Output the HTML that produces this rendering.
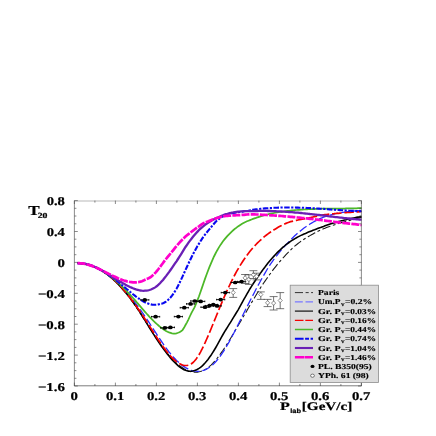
<!DOCTYPE html>
<html><head><meta charset="utf-8"><style>html,body{margin:0;padding:0;background:#fff}svg{display:block;filter:blur(0.35px)}</style></head><body>
<svg width="436" height="436" viewBox="0 0 436 436">
<rect x="0" y="0" width="436" height="436" fill="#fff"/>
<clipPath id="c"><rect x="74.4" y="200.6" width="288.2" height="185.4"/></clipPath>
<g clip-path="url(#c)"><g fill="none" transform="scale(1.0,1)">
<path d="M77.50,263.2 L79.00,263.2 L80.50,263.3 L82.00,263.5 L83.50,263.7 L85.00,263.9 L86.50,264.3 L88.00,264.6 L89.50,265.1 L91.00,265.6 L92.50,266.1 L94.00,266.7 L95.50,267.4 L97.00,268.1 L98.50,268.9 L100.00,269.7 L101.50,270.6 L103.00,271.5 L104.50,272.5 L106.00,273.6 L107.50,274.7 L109.00,275.9 L110.50,277.1 L112.00,278.4 L113.50,279.8 L115.00,281.2 L116.50,282.6 L118.00,284.2 L119.50,285.7 L121.00,287.4 L122.50,289.1 L124.00,290.8 L125.50,292.6 L127.00,294.5 L128.50,296.4 L130.00,298.4 L131.50,300.4 L133.00,302.5 L134.50,304.7 L136.00,306.9 L137.50,309.1 L139.00,311.3 L140.50,313.6 L142.00,315.9 L143.50,318.2 L145.00,320.6 L146.50,322.9 L148.00,325.2 L149.50,327.6 L151.00,329.9 L152.50,332.2 L154.00,334.5 L155.50,336.8 L157.00,339.0 L158.50,341.2 L160.00,343.4 L161.50,345.5 L163.00,347.6 L164.50,349.6 L166.00,351.5 L167.50,353.4 L169.00,355.3 L170.50,357.0 L172.00,358.7 L173.50,360.3 L175.00,361.8 L176.50,363.2 L178.00,364.5 L179.50,365.7 L181.00,366.8 L182.50,367.8 L184.00,368.8 L185.50,369.6 L187.00,370.3 L188.50,370.9 L190.00,371.4 L191.50,371.8 L193.00,372.0 L194.50,372.2 L196.00,372.2 L197.50,372.1 L199.00,371.8 L200.50,371.5 L202.00,371.0 L203.50,370.3 L205.00,369.6 L206.50,368.7 L208.00,367.6 L209.50,366.4 L211.00,365.1 L212.50,363.6 L214.00,362.0 L215.50,360.3 L217.00,358.5 L218.50,356.6 L220.00,354.5 L221.50,352.4 L223.00,350.3 L224.50,348.0 L226.00,345.7 L227.50,343.3 L229.00,340.9 L230.50,338.5 L232.00,336.0 L233.50,333.4 L235.00,330.9 L236.50,328.3 L238.00,325.8 L239.50,323.2 L241.00,320.7 L242.50,318.1 L244.00,315.5 L245.50,313.0 L247.00,310.4 L248.50,307.8 L250.00,305.3 L251.50,302.8 L253.00,300.2 L254.50,297.7 L256.00,295.2 L257.50,292.8 L259.00,290.3 L260.50,287.8 L262.00,285.4 L263.50,283.2 L265.00,281.1 L266.50,279.0 L268.00,276.9 L269.50,274.8 L271.00,272.7 L272.50,270.7 L274.00,268.7 L275.50,266.8 L277.00,264.9 L278.50,263.1 L280.00,261.3 L281.50,259.6 L283.00,258.0 L284.50,256.3 L286.00,254.7 L287.50,253.2 L289.00,251.6 L290.50,250.1 L292.00,248.6 L293.50,247.2 L295.00,245.9 L296.50,244.7 L298.00,243.5 L299.50,242.4 L301.00,241.3 L302.50,240.3 L304.00,239.3 L305.50,238.3 L307.00,237.4 L308.50,236.5 L310.00,235.6 L311.50,234.7 L313.00,233.9 L314.50,233.1 L316.00,232.3 L317.50,231.5 L319.00,230.8 L320.50,230.1 L322.00,229.5 L323.50,228.8 L325.00,228.2 L326.50,227.6 L328.00,227.0 L329.50,226.5 L331.00,225.9 L332.50,225.4 L334.00,224.9 L335.50,224.4 L337.00,223.9 L338.50,223.5 L340.00,223.0 L341.50,222.6 L343.00,222.2 L344.50,221.8 L346.00,221.4 L347.50,221.0 L349.00,220.6 L350.50,220.2 L352.00,219.8 L353.50,219.4 L355.00,219.0 L356.50,218.6 L358.00,218.3 L359.50,217.9 L361.00,217.5 L361.60,217.4" stroke="#1a1a1a" stroke-width="1.1" stroke-dasharray="8.5 2.6 2.8 2.6"/>
<path d="M77.50,263.2 L79.00,263.2 L80.50,263.3 L82.00,263.5 L83.50,263.7 L85.00,264.0 L86.50,264.3 L88.00,264.7 L89.50,265.1 L91.00,265.6 L92.50,266.1 L94.00,266.7 L95.50,267.4 L97.00,268.1 L98.50,268.8 L100.00,269.6 L101.50,270.5 L103.00,271.4 L104.50,272.4 L106.00,273.4 L107.50,274.4 L109.00,275.5 L110.50,276.7 L112.00,277.9 L113.50,279.2 L115.00,280.5 L116.50,281.9 L118.00,283.3 L119.50,284.7 L121.00,286.2 L122.50,287.8 L124.00,289.4 L125.50,291.0 L127.00,292.7 L128.50,294.5 L130.00,296.2 L131.50,298.1 L133.00,299.9 L134.50,301.9 L136.00,303.8 L137.50,305.8 L139.00,307.9 L140.50,309.9 L142.00,312.1 L143.50,314.2 L145.00,316.4 L146.50,318.6 L148.00,320.9 L149.50,323.2 L151.00,325.5 L152.50,327.8 L154.00,330.1 L155.50,332.4 L157.00,334.7 L158.50,337.0 L160.00,339.2 L161.50,341.4 L163.00,343.6 L164.50,345.7 L166.00,347.8 L167.50,349.8 L169.00,351.8 L170.50,353.7 L172.00,355.5 L173.50,357.2 L175.00,358.8 L176.50,360.4 L178.00,361.8 L179.50,363.2 L181.00,364.4 L182.50,365.6 L184.00,366.6 L185.50,367.6 L187.00,368.4 L188.50,369.2 L190.00,369.8 L191.50,370.4 L193.00,370.8 L194.50,371.1 L196.00,371.2 L197.50,371.3 L199.00,371.3 L200.50,371.1 L202.00,370.8 L203.50,370.3 L205.00,369.8 L206.50,369.1 L208.00,368.2 L209.50,367.3 L211.00,366.2 L212.50,364.9 L214.00,363.5 L215.50,362.0 L217.00,360.3 L218.50,358.5 L220.00,356.5 L221.50,354.4 L223.00,352.2 L224.50,349.8 L226.00,347.3 L227.50,344.7 L229.00,342.1 L230.50,339.3 L232.00,336.5 L233.50,333.7 L235.00,330.7 L236.50,327.8 L238.00,324.8 L239.50,321.8 L241.00,318.8 L242.50,315.8 L244.00,312.8 L245.50,309.8 L247.00,306.8 L248.50,303.9 L250.00,300.9 L251.50,298.0 L253.00,295.1 L254.50,292.2 L256.00,289.3 L257.50,286.5 L259.00,283.7 L260.50,281.0 L262.00,278.3 L263.50,275.7 L265.00,273.1 L266.50,270.5 L268.00,268.0 L269.50,265.6 L271.00,263.4 L272.50,261.3 L274.00,259.2 L275.50,257.2 L277.00,255.3 L278.50,253.4 L280.00,251.5 L281.50,249.7 L283.00,248.0 L284.50,246.4 L286.00,244.8 L287.50,243.2 L289.00,241.6 L290.50,240.0 L292.00,238.5 L293.50,237.0 L295.00,235.6 L296.50,234.2 L298.00,232.9 L299.50,231.6 L301.00,230.4 L302.50,229.2 L304.00,228.0 L305.50,227.0 L307.00,225.9 L308.50,225.0 L310.00,224.0 L311.50,223.1 L313.00,222.2 L314.50,221.4 L316.00,220.6 L317.50,219.8 L319.00,219.1 L320.50,218.4 L322.00,217.8 L323.50,217.2 L325.00,216.6 L326.50,216.1 L328.00,215.6 L329.50,215.2 L331.00,214.8 L332.50,214.4 L334.00,214.0 L335.50,213.7 L337.00,213.4 L338.50,213.1 L340.00,212.8 L341.50,212.6 L343.00,212.3 L344.50,212.1 L346.00,211.9 L347.50,211.7 L349.00,211.6 L350.50,211.4 L352.00,211.2 L353.50,211.1 L355.00,210.9 L356.50,210.8 L358.00,210.6 L359.50,210.5 L361.00,210.3 L361.60,210.2" stroke="#2b2bff" stroke-width="1.3" stroke-dasharray="8.5 3"/>
<path d="M77.50,263.2 L79.00,263.2 L80.50,263.3 L82.00,263.4 L83.50,263.7 L85.00,263.9 L86.50,264.2 L88.00,264.6 L89.50,265.0 L91.00,265.5 L92.50,266.1 L94.00,266.7 L95.50,267.3 L97.00,268.1 L98.50,268.8 L100.00,269.7 L101.50,270.6 L103.00,271.5 L104.50,272.5 L106.00,273.6 L107.50,274.7 L109.00,275.9 L110.50,277.1 L112.00,278.4 L113.50,279.7 L115.00,281.1 L116.50,282.5 L118.00,284.0 L119.50,285.6 L121.00,287.2 L122.50,288.9 L124.00,290.6 L125.50,292.4 L127.00,294.2 L128.50,296.1 L130.00,298.0 L131.50,300.0 L133.00,302.0 L134.50,304.1 L136.00,306.3 L137.50,308.5 L139.00,310.7 L140.50,313.0 L142.00,315.5 L143.50,318.0 L145.00,320.4 L146.50,322.9 L148.00,325.4 L149.50,327.8 L151.00,330.2 L152.50,332.6 L154.00,334.9 L155.50,337.2 L157.00,339.5 L158.50,341.8 L160.00,344.0 L161.50,346.2 L163.00,348.3 L164.50,350.3 L166.00,352.3 L167.50,354.3 L169.00,356.1 L170.50,357.9 L172.00,359.6 L173.50,361.2 L175.00,362.8 L176.50,364.2 L178.00,365.6 L179.50,366.8 L181.00,367.9 L182.50,368.9 L184.00,369.7 L185.50,370.3 L187.00,370.7 L188.50,371.1 L190.00,371.2 L191.50,371.2 L193.00,371.0 L194.50,370.6 L196.00,370.1 L197.50,369.3 L199.00,368.4 L200.50,367.3 L202.00,366.1 L203.50,364.6 L205.00,363.0 L206.50,361.3 L208.00,359.4 L209.50,357.3 L211.00,355.2 L212.50,352.9 L214.00,350.5 L215.50,348.0 L217.00,345.4 L218.50,342.7 L220.00,339.9 L221.50,337.2 L223.00,334.5 L224.50,331.9 L226.00,329.5 L227.50,327.1 L229.00,324.7 L230.50,322.3 L232.00,319.9 L233.50,317.4 L235.00,315.0 L236.50,312.5 L238.00,310.1 L239.50,307.4 L241.00,304.6 L242.50,301.9 L244.00,299.2 L245.50,296.6 L247.00,293.9 L248.50,291.3 L250.00,288.7 L251.50,286.4 L253.00,284.0 L254.50,281.8 L256.00,279.5 L257.50,277.3 L259.00,275.2 L260.50,273.1 L262.00,271.0 L263.50,268.9 L265.00,267.0 L266.50,265.0 L268.00,263.1 L269.50,261.3 L271.00,259.5 L272.50,257.8 L274.00,256.1 L275.50,254.5 L277.00,252.9 L278.50,251.4 L280.00,250.0 L281.50,248.6 L283.00,247.2 L284.50,246.0 L286.00,244.7 L287.50,243.6 L289.00,242.5 L290.50,241.4 L292.00,240.4 L293.50,239.5 L295.00,238.6 L296.50,237.7 L298.00,236.9 L299.50,236.1 L301.00,235.4 L302.50,234.7 L304.00,234.0 L305.50,233.4 L307.00,232.7 L308.50,232.1 L310.00,231.5 L311.50,230.9 L313.00,230.3 L314.50,229.8 L316.00,229.2 L317.50,228.6 L319.00,228.0 L320.50,227.5 L322.00,226.9 L323.50,226.4 L325.00,225.8 L326.50,225.3 L328.00,224.8 L329.50,224.3 L331.00,223.8 L332.50,223.3 L334.00,222.9 L335.50,222.4 L337.00,222.0 L338.50,221.6 L340.00,221.2 L341.50,220.8 L343.00,220.4 L344.50,220.0 L346.00,219.7 L347.50,219.3 L349.00,218.9 L350.50,218.6 L352.00,218.3 L353.50,218.0 L355.00,217.7 L356.50,217.4 L358.00,217.1 L359.50,216.9 L361.00,216.6 L361.60,216.5" stroke="#000" stroke-width="1.6"/>
<path d="M77.50,263.1 L79.00,263.2 L80.50,263.3 L82.00,263.5 L83.50,263.8 L85.00,264.1 L86.50,264.4 L88.00,264.8 L89.50,265.2 L91.00,265.7 L92.50,266.2 L94.00,266.8 L95.50,267.4 L97.00,268.1 L98.50,268.8 L100.00,269.6 L101.50,270.4 L103.00,271.3 L104.50,272.3 L106.00,273.3 L107.50,274.4 L109.00,275.5 L110.50,276.7 L112.00,278.0 L113.50,279.3 L115.00,280.7 L116.50,282.2 L118.00,283.7 L119.50,285.2 L121.00,286.8 L122.50,288.5 L124.00,290.3 L125.50,292.0 L127.00,293.9 L128.50,295.7 L130.00,297.6 L131.50,299.6 L133.00,301.6 L134.50,303.7 L136.00,305.8 L137.50,307.9 L139.00,310.0 L140.50,312.2 L142.00,314.5 L143.50,316.7 L145.00,319.0 L146.50,321.3 L148.00,323.7 L149.50,326.0 L151.00,328.4 L152.50,330.8 L154.00,333.1 L155.50,335.5 L157.00,337.8 L158.50,340.1 L160.00,342.3 L161.50,344.5 L163.00,346.6 L164.50,348.6 L166.00,350.6 L167.50,352.5 L169.00,354.3 L170.50,356.0 L172.00,357.6 L173.50,359.1 L175.00,360.4 L176.50,361.6 L178.00,362.7 L179.50,363.6 L181.00,364.4 L182.50,365.0 L184.00,365.4 L185.50,365.5 L187.00,365.5 L188.50,365.2 L190.00,364.6 L191.50,363.7 L193.00,362.5 L194.50,361.0 L196.00,359.2 L197.50,357.1 L199.00,354.7 L200.50,352.1 L202.00,349.2 L203.50,346.1 L205.00,342.9 L206.50,339.5 L208.00,336.1 L209.50,332.6 L211.00,329.0 L212.50,325.3 L214.00,321.6 L215.50,318.0 L217.00,314.3 L218.50,310.6 L220.00,307.0 L221.50,303.4 L223.00,299.8 L224.50,296.4 L226.00,293.0 L227.50,289.7 L229.00,286.5 L230.50,283.3 L232.00,280.3 L233.50,277.3 L235.00,274.5 L236.50,271.7 L238.00,269.1 L239.50,266.5 L241.00,264.1 L242.50,261.7 L244.00,259.5 L245.50,257.3 L247.00,255.2 L248.50,253.2 L250.00,251.3 L251.50,249.5 L253.00,247.7 L254.50,246.1 L256.00,244.5 L257.50,242.9 L259.00,241.5 L260.50,240.1 L262.00,238.7 L263.50,237.4 L265.00,236.2 L266.50,235.0 L268.00,233.9 L269.50,232.8 L271.00,231.8 L272.50,230.8 L274.00,229.8 L275.50,228.9 L277.00,228.0 L278.50,227.1 L280.00,226.3 L281.50,225.6 L283.00,224.8 L284.50,224.1 L286.00,223.4 L287.50,222.8 L289.00,222.2 L290.50,221.6 L292.00,221.3 L293.50,221.0 L295.00,220.6 L296.50,220.3 L298.00,220.0 L299.50,219.7 L301.00,219.4 L302.50,219.2 L304.00,218.9 L305.50,218.6 L307.00,218.3 L308.50,218.0 L310.00,217.7 L311.50,217.3 L313.00,217.0 L314.50,216.7 L316.00,216.4 L317.50,216.0 L319.00,215.7 L320.50,215.4 L322.00,215.2 L323.50,214.9 L325.00,214.7 L326.50,214.5 L328.00,214.3 L329.50,214.1 L331.00,214.0 L332.50,213.8 L334.00,213.7 L335.50,213.5 L337.00,213.4 L338.50,213.3 L340.00,213.1 L341.50,213.0 L343.00,212.9 L344.50,212.7 L346.00,212.6 L347.50,212.5 L349.00,212.4 L350.50,212.3 L352.00,212.2 L353.50,212.1 L355.00,212.0 L356.50,211.9 L358.00,211.8 L359.50,211.7 L361.00,211.5 L361.60,211.5" stroke="#f40000" stroke-width="1.7" stroke-dasharray="9.5 2.8"/>
<path d="M77.50,263.2 L79.00,263.2 L80.50,263.3 L82.00,263.5 L83.50,263.7 L85.00,263.9 L86.50,264.3 L88.00,264.6 L89.50,265.1 L91.00,265.6 L92.50,266.1 L94.00,266.7 L95.50,267.4 L97.00,268.0 L98.50,268.8 L100.00,269.6 L101.50,270.4 L103.00,271.3 L104.50,272.3 L106.00,273.3 L107.50,274.3 L109.00,275.4 L110.50,276.5 L112.00,277.6 L113.50,278.8 L115.00,280.1 L116.50,281.4 L118.00,282.7 L119.50,284.1 L121.00,285.5 L122.50,286.9 L124.00,288.4 L125.50,289.9 L127.00,291.5 L128.50,293.1 L130.00,294.7 L131.50,296.3 L133.00,298.0 L134.50,299.7 L136.00,301.4 L137.50,303.2 L139.00,304.9 L140.50,306.6 L142.00,308.4 L143.50,310.1 L145.00,311.8 L146.50,313.5 L148.00,315.1 L149.50,316.8 L151.00,318.4 L152.50,319.9 L154.00,321.4 L155.50,322.8 L157.00,324.2 L158.50,325.5 L160.00,326.8 L161.50,327.9 L163.00,329.0 L164.50,330.0 L166.00,330.9 L167.50,331.7 L169.00,332.4 L170.50,332.9 L172.00,333.4 L173.50,333.5 L175.00,333.5 L176.50,333.3 L178.00,332.8 L179.50,332.2 L181.00,331.3 L182.50,330.1 L184.00,327.8 L185.50,325.0 L187.00,322.3 L188.50,319.3 L190.00,316.0 L191.50,312.8 L193.00,310.1 L194.50,307.3 L196.00,303.8 L197.50,300.1 L199.00,296.2 L200.50,292.0 L202.00,287.6 L203.50,283.2 L205.00,278.9 L206.50,274.7 L208.00,270.7 L209.50,266.9 L211.00,263.3 L212.50,259.8 L214.00,256.5 L215.50,253.5 L217.00,250.7 L218.50,248.1 L220.00,245.6 L221.50,243.4 L223.00,241.3 L224.50,239.4 L226.00,237.6 L227.50,235.9 L229.00,234.3 L230.50,232.8 L232.00,231.3 L233.50,230.0 L235.00,228.7 L236.50,227.6 L238.00,226.4 L239.50,225.4 L241.00,224.4 L242.50,223.5 L244.00,222.7 L245.50,222.0 L247.00,221.3 L248.50,220.7 L250.00,220.1 L251.50,219.5 L253.00,218.9 L254.50,218.4 L256.00,217.9 L257.50,217.3 L259.00,216.8 L260.50,216.3 L262.00,215.9 L263.50,215.4 L265.00,215.0 L266.50,214.6 L268.00,214.3 L269.50,213.9 L271.00,213.6 L272.50,213.3 L274.00,213.0 L275.50,212.7 L277.00,212.5 L278.50,212.2 L280.00,212.0 L281.50,211.8 L283.00,211.5 L284.50,211.3 L286.00,211.1 L287.50,210.9 L289.00,210.8 L290.50,210.6 L292.00,210.4 L293.50,210.3 L295.00,210.1 L296.50,210.0 L298.00,209.9 L299.50,209.8 L301.00,209.7 L302.50,209.6 L304.00,209.5 L305.50,209.4 L307.00,209.3 L308.50,209.2 L310.00,209.1 L311.50,209.1 L313.00,209.0 L314.50,209.0 L316.00,208.9 L317.50,208.9 L319.00,208.8 L320.50,208.8 L322.00,208.7 L323.50,208.7 L325.00,208.7 L326.50,208.7 L328.00,208.6 L329.50,208.6 L331.00,208.6 L332.50,208.6 L334.00,208.6 L335.50,208.5 L337.00,208.5 L338.50,208.5 L340.00,208.5 L341.50,208.5 L343.00,208.5 L344.50,208.5 L346.00,208.4 L347.50,208.4 L349.00,208.4 L350.50,208.4 L352.00,208.4 L353.50,208.3 L355.00,208.3 L356.50,208.3 L358.00,208.2 L359.50,208.2 L361.00,208.1 L361.60,208.1" stroke="#4cb828" stroke-width="1.75"/>
<path d="M77.50,263.3 L79.00,263.3 L80.50,263.3 L82.00,263.4 L83.50,263.6 L85.00,263.8 L86.50,264.1 L88.00,264.5 L89.50,264.9 L91.00,265.4 L92.50,266.0 L94.00,266.6 L95.50,267.2 L97.00,267.9 L98.50,268.7 L100.00,269.5 L101.50,270.3 L103.00,271.2 L104.50,272.1 L106.00,273.1 L107.50,274.1 L109.00,275.1 L110.50,276.2 L112.00,277.2 L113.50,278.4 L115.00,279.5 L116.50,280.7 L118.00,281.8 L119.50,283.0 L121.00,284.3 L122.50,285.5 L124.00,286.7 L125.50,288.0 L127.00,289.3 L128.50,290.5 L130.00,291.8 L131.50,293.0 L133.00,294.2 L134.50,295.4 L136.00,296.6 L137.50,297.7 L139.00,298.7 L140.50,299.7 L142.00,300.6 L143.50,301.5 L145.00,302.3 L146.50,303.0 L148.00,303.5 L149.50,304.0 L151.00,304.4 L152.50,304.7 L154.00,304.8 L155.50,304.8 L157.00,304.7 L158.50,304.4 L160.00,303.9 L161.50,303.7 L163.00,303.2 L164.50,302.5 L166.00,301.6 L167.50,300.5 L169.00,299.1 L170.50,297.5 L172.00,295.7 L173.50,293.6 L175.00,291.2 L176.50,288.7 L178.00,285.9 L179.50,283.0 L181.00,279.8 L182.50,276.6 L184.00,273.3 L185.50,270.0 L187.00,266.7 L188.50,263.5 L190.00,260.3 L191.50,257.2 L193.00,254.2 L194.50,251.4 L196.00,248.7 L197.50,246.1 L199.00,243.6 L200.50,241.2 L202.00,238.9 L203.50,236.7 L205.00,234.7 L206.50,232.8 L208.00,230.9 L209.50,229.1 L211.00,227.3 L212.50,225.4 L214.00,223.7 L215.50,222.0 L217.00,220.5 L218.50,219.3 L220.00,218.2 L221.50,217.2 L223.00,216.3 L224.50,215.5 L226.00,214.9 L227.50,214.4 L229.00,213.9 L230.50,213.5 L232.00,213.2 L233.50,212.9 L235.00,212.7 L236.50,212.5 L238.00,212.3 L239.50,212.0 L241.00,211.8 L242.50,211.6 L244.00,211.3 L245.50,211.0 L247.00,210.8 L248.50,210.5 L250.00,210.3 L251.50,210.0 L253.00,209.8 L254.50,209.6 L256.00,209.4 L257.50,209.2 L259.00,209.0 L260.50,208.8 L262.00,208.7 L263.50,208.5 L265.00,208.4 L266.50,208.3 L268.00,208.2 L269.50,208.0 L271.00,208.0 L272.50,207.9 L274.00,207.8 L275.50,207.7 L277.00,207.7 L278.50,207.6 L280.00,207.6 L281.50,207.5 L283.00,207.5 L284.50,207.5 L286.00,207.5 L287.50,207.5 L289.00,207.5 L290.50,207.5 L292.00,207.5 L293.50,207.5 L295.00,207.5 L296.50,207.6 L298.00,207.6 L299.50,207.7 L301.00,207.7 L302.50,207.8 L304.00,207.8 L305.50,207.9 L307.00,208.0 L308.50,208.0 L310.00,208.1 L311.50,208.2 L313.00,208.3 L314.50,208.4 L316.00,208.5 L317.50,208.5 L319.00,208.6 L320.50,208.7 L322.00,208.8 L323.50,208.9 L325.00,209.0 L326.50,209.1 L328.00,209.2 L329.50,209.4 L331.00,209.5 L332.50,209.6 L334.00,209.7 L335.50,209.8 L337.00,209.9 L338.50,210.0 L340.00,210.1 L341.50,210.2 L343.00,210.3 L344.50,210.4 L346.00,210.5 L347.50,210.6 L349.00,210.7 L350.50,210.8 L352.00,210.9 L353.50,210.9 L355.00,211.0 L356.50,211.1 L358.00,211.2 L359.50,211.2 L361.00,211.3 L361.60,211.3" stroke="#0808f0" stroke-width="2.1" stroke-dasharray="5.5 1.5 2.2 1.5"/>
<path d="M77.50,263.4 L79.00,263.3 L80.50,263.3 L82.00,263.4 L83.50,263.5 L85.00,263.8 L86.50,264.1 L88.00,264.4 L89.50,264.9 L91.00,265.4 L92.50,265.9 L94.00,266.5 L95.50,267.2 L97.00,267.9 L98.50,268.6 L100.00,269.4 L101.50,270.2 L103.00,271.1 L104.50,271.9 L106.00,272.8 L107.50,273.7 L109.00,274.6 L110.50,275.6 L112.00,276.5 L113.50,277.5 L115.00,278.4 L116.50,279.3 L118.00,280.3 L119.50,281.2 L121.00,282.1 L122.50,283.0 L124.00,283.8 L125.50,284.7 L127.00,285.5 L128.50,286.2 L130.00,287.0 L131.50,287.6 L133.00,288.3 L134.50,288.9 L136.00,289.4 L137.50,289.8 L139.00,290.2 L140.50,290.5 L142.00,290.7 L143.50,290.8 L145.00,290.7 L146.50,290.6 L148.00,290.4 L149.50,290.0 L151.00,289.5 L152.50,288.8 L154.00,288.1 L155.50,287.1 L157.00,286.0 L158.50,284.7 L160.00,283.3 L161.50,281.6 L163.00,279.9 L164.50,278.0 L166.00,276.1 L167.50,274.1 L169.00,272.1 L170.50,270.0 L172.00,267.8 L173.50,265.6 L175.00,263.4 L176.50,261.3 L178.00,259.0 L179.50,256.7 L181.00,254.3 L182.50,251.8 L184.00,249.4 L185.50,247.0 L187.00,244.8 L188.50,242.6 L190.00,240.6 L191.50,238.7 L193.00,236.8 L194.50,235.0 L196.00,233.2 L197.50,231.6 L199.00,230.0 L200.50,228.6 L202.00,227.3 L203.50,226.1 L205.00,224.9 L206.50,223.8 L208.00,222.8 L209.50,221.8 L211.00,220.9 L212.50,220.1 L214.00,219.3 L215.50,218.6 L217.00,217.8 L218.50,217.2 L220.00,216.5 L221.50,215.9 L223.00,215.3 L224.50,214.7 L226.00,214.2 L227.50,213.8 L229.00,213.3 L230.50,213.0 L232.00,212.6 L233.50,212.4 L235.00,212.1 L236.50,211.9 L238.00,211.7 L239.50,211.6 L241.00,211.4 L242.50,211.3 L244.00,211.2 L245.50,211.2 L247.00,211.2 L248.50,211.2 L250.00,211.2 L251.50,211.1 L253.00,211.1 L254.50,211.0 L256.00,211.0 L257.50,211.0 L259.00,210.9 L260.50,210.9 L262.00,210.9 L263.50,210.9 L265.00,210.9 L266.50,210.9 L268.00,211.0 L269.50,211.0 L271.00,211.0 L272.50,211.1 L274.00,211.1 L275.50,211.2 L277.00,211.3 L278.50,211.3 L280.00,211.4 L281.50,211.5 L283.00,211.6 L284.50,211.7 L286.00,211.8 L287.50,211.9 L289.00,212.0 L290.50,212.1 L292.00,212.2 L293.50,212.3 L295.00,212.5 L296.50,212.6 L298.00,212.7 L299.50,212.9 L301.00,213.0 L302.50,213.2 L304.00,213.3 L305.50,213.5 L307.00,213.6 L308.50,213.8 L310.00,214.0 L311.50,214.1 L313.00,214.3 L314.50,214.5 L316.00,214.6 L317.50,214.8 L319.00,215.0 L320.50,215.2 L322.00,215.4 L323.50,215.6 L325.00,215.7 L326.50,215.9 L328.00,216.1 L329.50,216.3 L331.00,216.5 L332.50,216.7 L334.00,216.9 L335.50,217.1 L337.00,217.2 L338.50,217.4 L340.00,217.6 L341.50,217.7 L343.00,217.9 L344.50,218.1 L346.00,218.2 L347.50,218.4 L349.00,218.5 L350.50,218.7 L352.00,218.8 L353.50,219.0 L355.00,219.1 L356.50,219.3 L358.00,219.4 L359.50,219.6 L361.00,219.7 L361.60,219.7" stroke="#6a1fb5" stroke-width="2.3"/>
<path d="M77.50,263.2 L79.00,263.2 L80.50,263.3 L82.00,263.4 L83.50,263.6 L85.00,263.9 L86.50,264.3 L88.00,264.7 L89.50,265.1 L91.00,265.6 L92.50,266.1 L94.00,266.7 L95.50,267.4 L97.00,268.0 L98.50,268.7 L100.00,269.4 L101.50,270.1 L103.00,270.9 L104.50,271.6 L106.00,272.4 L107.50,273.1 L109.00,273.9 L110.50,274.6 L112.00,275.4 L113.50,276.1 L115.00,276.8 L116.50,277.5 L118.00,278.2 L119.50,278.8 L121.00,279.4 L122.50,280.0 L124.00,280.5 L125.50,280.9 L127.00,281.4 L128.50,281.7 L130.00,282.0 L131.50,282.2 L133.00,282.4 L134.50,282.4 L136.00,282.4 L137.50,282.2 L139.00,282.0 L140.50,281.6 L142.00,281.2 L143.50,280.6 L145.00,279.8 L146.50,279.1 L148.00,278.5 L149.50,277.7 L151.00,276.8 L152.50,275.6 L154.00,274.2 L155.50,272.6 L157.00,270.8 L158.50,269.0 L160.00,267.0 L161.50,265.0 L163.00,263.0 L164.50,260.9 L166.00,259.0 L167.50,257.1 L169.00,255.3 L170.50,253.5 L172.00,251.7 L173.50,249.8 L175.00,247.9 L176.50,246.1 L178.00,244.3 L179.50,242.6 L181.00,241.0 L182.50,239.5 L184.00,238.0 L185.50,236.6 L187.00,235.3 L188.50,234.1 L190.00,232.9 L191.50,231.7 L193.00,230.6 L194.50,229.5 L196.00,228.4 L197.50,227.3 L199.00,226.3 L200.50,225.2 L202.00,224.1 L203.50,223.3 L205.00,222.6 L206.50,222.0 L208.00,221.4 L209.50,220.8 L211.00,220.2 L212.50,219.6 L214.00,219.0 L215.50,218.5 L217.00,218.0 L218.50,217.6 L220.00,217.2 L221.50,216.8 L223.00,216.5 L224.50,216.2 L226.00,216.0 L227.50,215.8 L229.00,215.7 L230.50,215.6 L232.00,215.5 L233.50,215.4 L235.00,215.3 L236.50,215.2 L238.00,215.2 L239.50,215.1 L241.00,215.0 L242.50,214.9 L244.00,214.8 L245.50,214.6 L247.00,214.5 L248.50,214.4 L250.00,214.3 L251.50,214.3 L253.00,214.4 L254.50,214.4 L256.00,214.5 L257.50,214.5 L259.00,214.6 L260.50,214.7 L262.00,214.8 L263.50,214.8 L265.00,214.9 L266.50,215.0 L268.00,215.1 L269.50,215.2 L271.00,215.3 L272.50,215.4 L274.00,215.5 L275.50,215.6 L277.00,215.7 L278.50,215.8 L280.00,215.9 L281.50,216.0 L283.00,216.1 L284.50,216.3 L286.00,216.4 L287.50,216.5 L289.00,216.6 L290.50,216.8 L292.00,216.9 L293.50,217.1 L295.00,217.2 L296.50,217.3 L298.00,217.5 L299.50,217.6 L301.00,217.8 L302.50,218.0 L304.00,218.1 L305.50,218.3 L307.00,218.4 L308.50,218.6 L310.00,218.8 L311.50,219.0 L313.00,219.1 L314.50,219.3 L316.00,219.5 L317.50,219.7 L319.00,219.9 L320.50,220.0 L322.00,220.2 L323.50,220.4 L325.00,220.6 L326.50,220.8 L328.00,221.0 L329.50,221.2 L331.00,221.4 L332.50,221.6 L334.00,221.8 L335.50,222.0 L337.00,222.2 L338.50,222.4 L340.00,222.6 L341.50,222.8 L343.00,222.9 L344.50,223.1 L346.00,223.2 L347.50,223.4 L349.00,223.6 L350.50,223.7 L352.00,223.9 L353.50,224.1 L355.00,224.2 L356.50,224.4 L358.00,224.6 L359.50,224.8 L361.00,225.0 L361.60,225.0" stroke="#ff00cc" stroke-width="2.7" stroke-dasharray="8 1.2"/>
</g></g>
<g stroke="#000" stroke-width="0.9">
<path d="M140.7,299.9H148.9M140.7,299.1v1.6M148.9,299.1v1.6"/>
<ellipse cx="144.8" cy="299.9" rx="2.3" ry="1.85" fill="#000" stroke="none"/>
<path d="M151.5,316.7H159.7M151.5,315.9v1.6M159.7,315.9v1.6"/>
<ellipse cx="155.6" cy="316.7" rx="2.3" ry="1.85" fill="#000" stroke="none"/>
<path d="M160.7,327.9H168.9M160.7,327.1v1.6M168.9,327.1v1.6"/>
<ellipse cx="164.8" cy="327.9" rx="2.3" ry="1.85" fill="#000" stroke="none"/>
<path d="M166.3,327.4H174.5M166.3,326.6v1.6M174.5,326.6v1.6"/>
<ellipse cx="170.4" cy="327.4" rx="2.3" ry="1.85" fill="#000" stroke="none"/>
<path d="M174.3,316.6H182.5M174.3,315.8v1.6M182.5,315.8v1.6"/>
<ellipse cx="178.4" cy="316.6" rx="2.3" ry="1.85" fill="#000" stroke="none"/>
<path d="M180.2,307.7H188.4M180.2,306.9v1.6M188.4,306.9v1.6"/>
<ellipse cx="184.3" cy="307.7" rx="2.3" ry="1.85" fill="#000" stroke="none"/>
<path d="M186.5,303.9H194.7M186.5,303.1v1.6M194.7,303.1v1.6"/>
<ellipse cx="190.6" cy="303.9" rx="2.3" ry="1.85" fill="#000" stroke="none"/>
<path d="M190.7,301.0H198.9M190.7,300.2v1.6M198.9,300.2v1.6"/>
<ellipse cx="194.8" cy="301.0" rx="2.3" ry="1.85" fill="#000" stroke="none"/>
<path d="M196.6,301.4H204.8M196.6,300.6v1.6M204.8,300.6v1.6"/>
<ellipse cx="200.7" cy="301.4" rx="2.3" ry="1.85" fill="#000" stroke="none"/>
<path d="M200.9,307.2H209.1M200.9,306.4v1.6M209.1,306.4v1.6"/>
<ellipse cx="205.0" cy="307.2" rx="2.3" ry="1.85" fill="#000" stroke="none"/>
<path d="M205.4,305.7H213.6M205.4,304.9v1.6M213.6,304.9v1.6"/>
<ellipse cx="209.5" cy="305.7" rx="2.3" ry="1.85" fill="#000" stroke="none"/>
<path d="M209.2,304.6H217.4M209.2,303.8v1.6M217.4,303.8v1.6"/>
<ellipse cx="213.3" cy="304.6" rx="2.3" ry="1.85" fill="#000" stroke="none"/>
<path d="M213.0,305.9H221.2M213.0,305.1v1.6M221.2,305.1v1.6"/>
<ellipse cx="217.1" cy="305.9" rx="2.3" ry="1.85" fill="#000" stroke="none"/>
<path d="M216.6,299.6H224.8M216.6,298.8v1.6M224.8,298.8v1.6"/>
<ellipse cx="220.7" cy="299.6" rx="2.3" ry="1.85" fill="#000" stroke="none"/>
<path d="M221.2,292.6H229.4M221.2,291.8v1.6M229.4,291.8v1.6"/>
<ellipse cx="225.3" cy="292.6" rx="2.3" ry="1.85" fill="#000" stroke="none"/>
<path d="M231.1,282.5H239.3M231.1,281.7v1.6M239.3,281.7v1.6"/>
<ellipse cx="235.2" cy="282.5" rx="2.3" ry="1.85" fill="#000" stroke="none"/>
<path d="M237.5,281.6H245.7M237.5,280.8v1.6M245.7,280.8v1.6"/>
<ellipse cx="241.6" cy="281.6" rx="2.3" ry="1.85" fill="#000" stroke="none"/>
</g>
<g stroke="#484848" stroke-width="0.75">
<line x1="233.2" y1="288.6" x2="233.2" y2="297.4"/>
<line x1="229.2" y1="288.6" x2="237.2" y2="288.6"/>
<line x1="229.2" y1="297.4" x2="237.2" y2="297.4"/>
<path d="M231.1,292.6L233.2,290.4L235.3,292.6L233.2,294.8Z" fill="#fff" stroke-width="0.6" stroke-linejoin="round"/>
<line x1="245.1" y1="274.5" x2="245.1" y2="283.5"/>
<line x1="241.1" y1="274.5" x2="249.1" y2="274.5"/>
<line x1="241.1" y1="283.5" x2="249.1" y2="283.5"/>
<path d="M243.0,277.9L245.1,275.7L247.2,277.9L245.1,280.1Z" fill="#fff" stroke-width="0.6" stroke-linejoin="round"/>
<line x1="248.9" y1="274.8" x2="248.9" y2="284.4"/>
<line x1="244.9" y1="274.8" x2="252.9" y2="274.8"/>
<line x1="244.9" y1="284.4" x2="252.9" y2="284.4"/>
<path d="M246.8,279.4L248.9,277.2L251.0,279.4L248.9,281.6Z" fill="#fff" stroke-width="0.6" stroke-linejoin="round"/>
<line x1="253.4" y1="270.7" x2="253.4" y2="278.5"/>
<line x1="249.4" y1="270.7" x2="257.4" y2="270.7"/>
<line x1="249.4" y1="278.5" x2="257.4" y2="278.5"/>
<path d="M251.3,274.7L253.4,272.5L255.5,274.7L253.4,276.9Z" fill="#fff" stroke-width="0.6" stroke-linejoin="round"/>
<line x1="256.6" y1="273.2" x2="256.6" y2="279.9"/>
<line x1="252.6" y1="273.2" x2="260.6" y2="273.2"/>
<line x1="252.6" y1="279.9" x2="260.6" y2="279.9"/>
<path d="M254.5,276.3L256.6,274.1L258.7,276.3L256.6,278.5Z" fill="#fff" stroke-width="0.6" stroke-linejoin="round"/>
<line x1="260.8" y1="291.9" x2="260.8" y2="299.4"/>
<line x1="256.8" y1="291.9" x2="264.8" y2="291.9"/>
<line x1="256.8" y1="299.4" x2="264.8" y2="299.4"/>
<path d="M258.7,294.6L260.8,292.4L262.9,294.6L260.8,296.8Z" fill="#fff" stroke-width="0.6" stroke-linejoin="round"/>
<line x1="267.6" y1="299.4" x2="267.6" y2="306.6"/>
<line x1="263.6" y1="299.4" x2="271.6" y2="299.4"/>
<line x1="263.6" y1="306.6" x2="271.6" y2="306.6"/>
<path d="M265.5,302.8L267.6,300.6L269.7,302.8L267.6,305.0Z" fill="#fff" stroke-width="0.6" stroke-linejoin="round"/>
<line x1="273.6" y1="296.6" x2="273.6" y2="310.0"/>
<line x1="269.6" y1="296.6" x2="277.6" y2="296.6"/>
<line x1="269.6" y1="310.0" x2="277.6" y2="310.0"/>
<path d="M271.5,303.1L273.6,300.9L275.7,303.1L273.6,305.3Z" fill="#fff" stroke-width="0.6" stroke-linejoin="round"/>
<line x1="280.2" y1="292.6" x2="280.2" y2="308.7"/>
<line x1="276.2" y1="292.6" x2="284.2" y2="292.6"/>
<line x1="276.2" y1="308.7" x2="284.2" y2="308.7"/>
<path d="M278.1,300.5L280.2,298.3L282.3,300.5L280.2,302.7Z" fill="#fff" stroke-width="0.6" stroke-linejoin="round"/>
</g>
<g stroke="#444" stroke-width="0.62" fill="none">
<path d="M74.4,200.6V386.0M361.4,200.6V386.0"/>
<path d="M74.4,201.0H361.4" stroke="#999" stroke-width="0.7"/>
<path d="M74.4,385.8H361.4" stroke="#444" stroke-width="0.7"/>
<line x1="74.4" y1="386.0" x2="74.4" y2="382.6"/>
<line x1="74.4" y1="200.6" x2="74.4" y2="204.0"/>
<line x1="94.9" y1="386.0" x2="94.9" y2="384.0"/>
<line x1="94.9" y1="200.6" x2="94.9" y2="202.6"/>
<line x1="115.4" y1="386.0" x2="115.4" y2="382.6"/>
<line x1="115.4" y1="200.6" x2="115.4" y2="204.0"/>
<line x1="135.9" y1="386.0" x2="135.9" y2="384.0"/>
<line x1="135.9" y1="200.6" x2="135.9" y2="202.6"/>
<line x1="156.4" y1="386.0" x2="156.4" y2="382.6"/>
<line x1="156.4" y1="200.6" x2="156.4" y2="204.0"/>
<line x1="176.9" y1="386.0" x2="176.9" y2="384.0"/>
<line x1="176.9" y1="200.6" x2="176.9" y2="202.6"/>
<line x1="197.4" y1="386.0" x2="197.4" y2="382.6"/>
<line x1="197.4" y1="200.6" x2="197.4" y2="204.0"/>
<line x1="217.9" y1="386.0" x2="217.9" y2="384.0"/>
<line x1="217.9" y1="200.6" x2="217.9" y2="202.6"/>
<line x1="238.4" y1="386.0" x2="238.4" y2="382.6"/>
<line x1="238.4" y1="200.6" x2="238.4" y2="204.0"/>
<line x1="258.9" y1="386.0" x2="258.9" y2="384.0"/>
<line x1="258.9" y1="200.6" x2="258.9" y2="202.6"/>
<line x1="279.4" y1="386.0" x2="279.4" y2="382.6"/>
<line x1="279.4" y1="200.6" x2="279.4" y2="204.0"/>
<line x1="299.9" y1="386.0" x2="299.9" y2="384.0"/>
<line x1="299.9" y1="200.6" x2="299.9" y2="202.6"/>
<line x1="320.4" y1="386.0" x2="320.4" y2="382.6"/>
<line x1="320.4" y1="200.6" x2="320.4" y2="204.0"/>
<line x1="340.9" y1="386.0" x2="340.9" y2="384.0"/>
<line x1="340.9" y1="200.6" x2="340.9" y2="202.6"/>
<line x1="361.4" y1="386.0" x2="361.4" y2="382.6"/>
<line x1="361.4" y1="200.6" x2="361.4" y2="204.0"/>
<line x1="74.4" y1="200.6" x2="77.80000000000001" y2="200.6"/>
<line x1="361.4" y1="200.6" x2="358.0" y2="200.6"/>
<line x1="74.4" y1="208.3" x2="76.4" y2="208.3"/>
<line x1="361.4" y1="208.3" x2="359.4" y2="208.3"/>
<line x1="74.4" y1="216.0" x2="76.4" y2="216.0"/>
<line x1="361.4" y1="216.0" x2="359.4" y2="216.0"/>
<line x1="74.4" y1="223.8" x2="76.4" y2="223.8"/>
<line x1="361.4" y1="223.8" x2="359.4" y2="223.8"/>
<line x1="74.4" y1="231.5" x2="77.80000000000001" y2="231.5"/>
<line x1="361.4" y1="231.5" x2="358.0" y2="231.5"/>
<line x1="74.4" y1="239.2" x2="76.4" y2="239.2"/>
<line x1="361.4" y1="239.2" x2="359.4" y2="239.2"/>
<line x1="74.4" y1="246.9" x2="76.4" y2="246.9"/>
<line x1="361.4" y1="246.9" x2="359.4" y2="246.9"/>
<line x1="74.4" y1="254.7" x2="76.4" y2="254.7"/>
<line x1="361.4" y1="254.7" x2="359.4" y2="254.7"/>
<line x1="74.4" y1="262.4" x2="77.80000000000001" y2="262.4"/>
<line x1="361.4" y1="262.4" x2="358.0" y2="262.4"/>
<line x1="74.4" y1="270.1" x2="76.4" y2="270.1"/>
<line x1="361.4" y1="270.1" x2="359.4" y2="270.1"/>
<line x1="74.4" y1="277.9" x2="76.4" y2="277.9"/>
<line x1="361.4" y1="277.9" x2="359.4" y2="277.9"/>
<line x1="74.4" y1="285.6" x2="76.4" y2="285.6"/>
<line x1="361.4" y1="285.6" x2="359.4" y2="285.6"/>
<line x1="74.4" y1="293.3" x2="77.80000000000001" y2="293.3"/>
<line x1="361.4" y1="293.3" x2="358.0" y2="293.3"/>
<line x1="74.4" y1="301.0" x2="76.4" y2="301.0"/>
<line x1="361.4" y1="301.0" x2="359.4" y2="301.0"/>
<line x1="74.4" y1="308.8" x2="76.4" y2="308.8"/>
<line x1="361.4" y1="308.8" x2="359.4" y2="308.8"/>
<line x1="74.4" y1="316.5" x2="76.4" y2="316.5"/>
<line x1="361.4" y1="316.5" x2="359.4" y2="316.5"/>
<line x1="74.4" y1="324.2" x2="77.80000000000001" y2="324.2"/>
<line x1="361.4" y1="324.2" x2="358.0" y2="324.2"/>
<line x1="74.4" y1="331.9" x2="76.4" y2="331.9"/>
<line x1="361.4" y1="331.9" x2="359.4" y2="331.9"/>
<line x1="74.4" y1="339.6" x2="76.4" y2="339.6"/>
<line x1="361.4" y1="339.6" x2="359.4" y2="339.6"/>
<line x1="74.4" y1="347.4" x2="76.4" y2="347.4"/>
<line x1="361.4" y1="347.4" x2="359.4" y2="347.4"/>
<line x1="74.4" y1="355.1" x2="77.80000000000001" y2="355.1"/>
<line x1="361.4" y1="355.1" x2="358.0" y2="355.1"/>
<line x1="74.4" y1="362.8" x2="76.4" y2="362.8"/>
<line x1="361.4" y1="362.8" x2="359.4" y2="362.8"/>
<line x1="74.4" y1="370.6" x2="76.4" y2="370.6"/>
<line x1="361.4" y1="370.6" x2="359.4" y2="370.6"/>
<line x1="74.4" y1="378.3" x2="76.4" y2="378.3"/>
<line x1="361.4" y1="378.3" x2="359.4" y2="378.3"/>
<line x1="74.4" y1="386.0" x2="77.80000000000001" y2="386.0"/>
<line x1="361.4" y1="386.0" x2="358.0" y2="386.0"/>
</g>
<g font-family="'Liberation Serif', serif" font-weight="bold" fill="#000" stroke="#000" stroke-width="0.2" text-rendering="geometricPrecision">
<text x="64.9" y="205.2" font-size="12.0" text-anchor="end" textLength="18.2" lengthAdjust="spacingAndGlyphs" >0.8</text>
<text x="64.9" y="236.1" font-size="12.0" text-anchor="end" textLength="18.2" lengthAdjust="spacingAndGlyphs" >0.4</text>
<text x="64.9" y="267.0" font-size="12.0" text-anchor="end" textLength="7.4" lengthAdjust="spacingAndGlyphs" >0</text>
<text x="64.9" y="297.9" font-size="12.0" text-anchor="end" textLength="27" lengthAdjust="spacingAndGlyphs" >−0.4</text>
<text x="64.9" y="328.8" font-size="12.0" text-anchor="end" textLength="27" lengthAdjust="spacingAndGlyphs" >−0.8</text>
<text x="64.9" y="359.7" font-size="12.0" text-anchor="end" textLength="27" lengthAdjust="spacingAndGlyphs" >−1.2</text>
<text x="64.9" y="390.6" font-size="12.0" text-anchor="end" textLength="27" lengthAdjust="spacingAndGlyphs" >−1.6</text>
<text x="74.1" y="400.3" font-size="12.0" text-anchor="middle" textLength="7.4" lengthAdjust="spacingAndGlyphs" >0</text>
<text x="115.1" y="400.3" font-size="12.0" text-anchor="middle" textLength="18.4" lengthAdjust="spacingAndGlyphs" >0.1</text>
<text x="156.1" y="400.3" font-size="12.0" text-anchor="middle" textLength="18.4" lengthAdjust="spacingAndGlyphs" >0.2</text>
<text x="197.1" y="400.3" font-size="12.0" text-anchor="middle" textLength="18.4" lengthAdjust="spacingAndGlyphs" >0.3</text>
<text x="238.1" y="400.3" font-size="12.0" text-anchor="middle" textLength="18.4" lengthAdjust="spacingAndGlyphs" >0.4</text>
<text x="279.1" y="400.3" font-size="12.0" text-anchor="middle" textLength="18.4" lengthAdjust="spacingAndGlyphs" >0.5</text>
<text x="320.1" y="400.3" font-size="12.0" text-anchor="middle" textLength="18.4" lengthAdjust="spacingAndGlyphs" >0.6</text>
<text x="361.1" y="400.3" font-size="12.0" text-anchor="middle" textLength="18.4" lengthAdjust="spacingAndGlyphs" >0.7</text>
<text x="28.3" y="215.0" font-size="13.6" text-anchor="start" textLength="11.4" lengthAdjust="spacingAndGlyphs" >T</text>
<text x="37.7" y="217.7" font-size="7.9" text-anchor="start" textLength="9.8" lengthAdjust="spacingAndGlyphs" >20</text>
<text x="280.0" y="409.8" font-size="11.6" text-anchor="start" textLength="9.8" lengthAdjust="spacingAndGlyphs" >P</text>
<text x="290.2" y="413.1" font-size="6.4" text-anchor="start" textLength="10.8" lengthAdjust="spacingAndGlyphs" font-family="'Liberation Sans', sans-serif">lab</text>
<text x="301.8" y="409.8" font-size="11.6" text-anchor="start" textLength="50.5" lengthAdjust="spacingAndGlyphs" >[GeV/c]</text>
</g>
<rect x="290.2" y="285.2" width="88.3" height="97.2" fill="#dcdcdc" stroke="#8c8c8c" stroke-width="0.8"/>
<line x1="294.9" y1="292.6" x2="313" y2="292.6" stroke="#2a2a2a" stroke-width="0.95" stroke-dasharray="8.1 2.6 3.1 2.4 3"/>
<line x1="294.9" y1="301.8" x2="313" y2="301.8" stroke="#7878ff" stroke-width="1.35" stroke-dasharray="7.9 2.7 9"/>
<line x1="294.9" y1="311.1" x2="313" y2="311.1" stroke="#111" stroke-width="1.2"/>
<line x1="294.9" y1="320.3" x2="313" y2="320.3" stroke="#f40000" stroke-width="1.35" stroke-dasharray="8.6 1.8 9"/>
<line x1="294.9" y1="329.5" x2="313" y2="329.5" stroke="#4cb828" stroke-width="1.5"/>
<line x1="294.9" y1="338.8" x2="313" y2="338.8" stroke="#0808f0" stroke-width="2.0" stroke-dasharray="8.7 1.5 3.9 1.6 4"/>
<line x1="294.9" y1="348.0" x2="313" y2="348.0" stroke="#6a1fb5" stroke-width="2.1"/>
<line x1="294.9" y1="357.2" x2="313" y2="357.2" stroke="#ff00cc" stroke-width="2.5" stroke-dasharray="9.6 0.5"/>
<ellipse cx="312.5" cy="366.4" rx="2.0" ry="1.6" fill="#000"/>
<ellipse cx="312.5" cy="375.7" rx="1.9" ry="1.6" fill="#fff" stroke="#444" stroke-width="0.7"/>
<g font-family="'Liberation Serif', serif" font-weight="bold" fill="#000" stroke="#000" stroke-width="0.15" text-rendering="geometricPrecision">
<text x="318.0" y="295.2" font-size="7.6" text-anchor="start" textLength="21.3" lengthAdjust="spacingAndGlyphs" >Paris</text>
<text x="318.0" y="304.4" font-size="7.6" text-anchor="start" textLength="22.6" lengthAdjust="spacingAndGlyphs" >Um.P</text>
<text x="341.0" y="305.6" font-size="4.1" text-anchor="start" textLength="3.6" lengthAdjust="spacingAndGlyphs" >V</text>
<text x="345.0" y="304.4" font-size="7.6" text-anchor="start" textLength="27.3" lengthAdjust="spacingAndGlyphs" >=0.2%</text>
<text x="318.0" y="313.7" font-size="7.6" text-anchor="start" textLength="22.6" lengthAdjust="spacingAndGlyphs" >Gr. P</text>
<text x="341.0" y="314.9" font-size="4.1" text-anchor="start" textLength="3.6" lengthAdjust="spacingAndGlyphs" >V</text>
<text x="345.0" y="313.7" font-size="7.6" text-anchor="start" textLength="31.0" lengthAdjust="spacingAndGlyphs" >=0.03%</text>
<text x="318.0" y="322.9" font-size="7.6" text-anchor="start" textLength="22.6" lengthAdjust="spacingAndGlyphs" >Gr. P</text>
<text x="341.0" y="324.1" font-size="4.1" text-anchor="start" textLength="3.6" lengthAdjust="spacingAndGlyphs" >V</text>
<text x="345.0" y="322.9" font-size="7.6" text-anchor="start" textLength="31.0" lengthAdjust="spacingAndGlyphs" >=0.16%</text>
<text x="318.0" y="332.1" font-size="7.6" text-anchor="start" textLength="22.6" lengthAdjust="spacingAndGlyphs" >Gr. P</text>
<text x="341.0" y="333.3" font-size="4.1" text-anchor="start" textLength="3.6" lengthAdjust="spacingAndGlyphs" >V</text>
<text x="345.0" y="332.1" font-size="7.6" text-anchor="start" textLength="31.0" lengthAdjust="spacingAndGlyphs" >=0.44%</text>
<text x="318.0" y="341.4" font-size="7.6" text-anchor="start" textLength="22.6" lengthAdjust="spacingAndGlyphs" >Gr. P</text>
<text x="341.0" y="342.6" font-size="4.1" text-anchor="start" textLength="3.6" lengthAdjust="spacingAndGlyphs" >V</text>
<text x="345.0" y="341.4" font-size="7.6" text-anchor="start" textLength="31.0" lengthAdjust="spacingAndGlyphs" >=0.74%</text>
<text x="318.0" y="350.6" font-size="7.6" text-anchor="start" textLength="22.6" lengthAdjust="spacingAndGlyphs" >Gr. P</text>
<text x="341.0" y="351.8" font-size="4.1" text-anchor="start" textLength="3.6" lengthAdjust="spacingAndGlyphs" >V</text>
<text x="345.0" y="350.6" font-size="7.6" text-anchor="start" textLength="31.0" lengthAdjust="spacingAndGlyphs" >=1.04%</text>
<text x="318.0" y="359.8" font-size="7.6" text-anchor="start" textLength="22.6" lengthAdjust="spacingAndGlyphs" >Gr. P</text>
<text x="341.0" y="361.0" font-size="4.1" text-anchor="start" textLength="3.6" lengthAdjust="spacingAndGlyphs" >V</text>
<text x="345.0" y="359.8" font-size="7.6" text-anchor="start" textLength="31.0" lengthAdjust="spacingAndGlyphs" >=1.46%</text>
<text x="318.0" y="369.0" font-size="7.6" text-anchor="start" textLength="53.8" lengthAdjust="spacingAndGlyphs" >PL. B350(95)</text>
<text x="318.0" y="378.3" font-size="7.6" text-anchor="start" textLength="50.8" lengthAdjust="spacingAndGlyphs" >YPh. 61 (98)</text>
</g>
</svg>
</body></html>
